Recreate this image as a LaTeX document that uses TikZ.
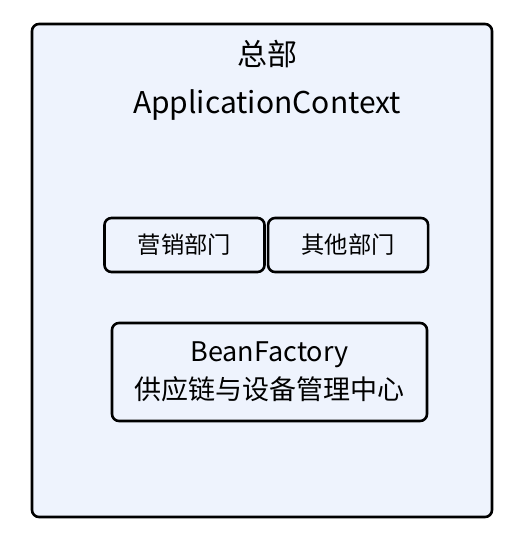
\documentclass[tikz,border=0pt]{standalone}
\usepackage{fontspec}
\setmainfont{Noto Sans CJK SC}
\usepackage{tikz}
\usetikzlibrary{positioning}
\definecolor{panelfill}{HTML}{EEF3FD}

\begin{document}
\begin{tikzpicture}[x=1bp, y=-1bp,
		box/.style={rectangle, draw=black, line width=2.6bp, fill=panelfill, rounded corners=7bp, align=center, inner sep=0pt},
		dept/.style={box, minimum width=160bp, minimum height=54bp, font=\fontsize{23.3bp}{28bp}\selectfont},
		label/.style={align=center, font=\fontsize{30bp}{48bp}\selectfont}]
	
	\useasboundingbox (0,0) rectangle (524,554);
	
	\node[box, minimum width=460bp, minimum height=493bp] (hq) at (262,270.5) {};
	\node[label] (title) at (267,80) {总部\\ApplicationContext};
	
	\node[dept] (sales) at (184.5,245) {营销部门};
	\node[dept, right=1bp of sales] (other) {其他部门};
	
	\node[box, minimum width=315bp, minimum height=98bp, font=\fontsize{27bp}{38bp}\selectfont] (bf) at (269.5,372) {BeanFactory\\供应链与设备管理中心};
	
\end{tikzpicture}
\end{document}
